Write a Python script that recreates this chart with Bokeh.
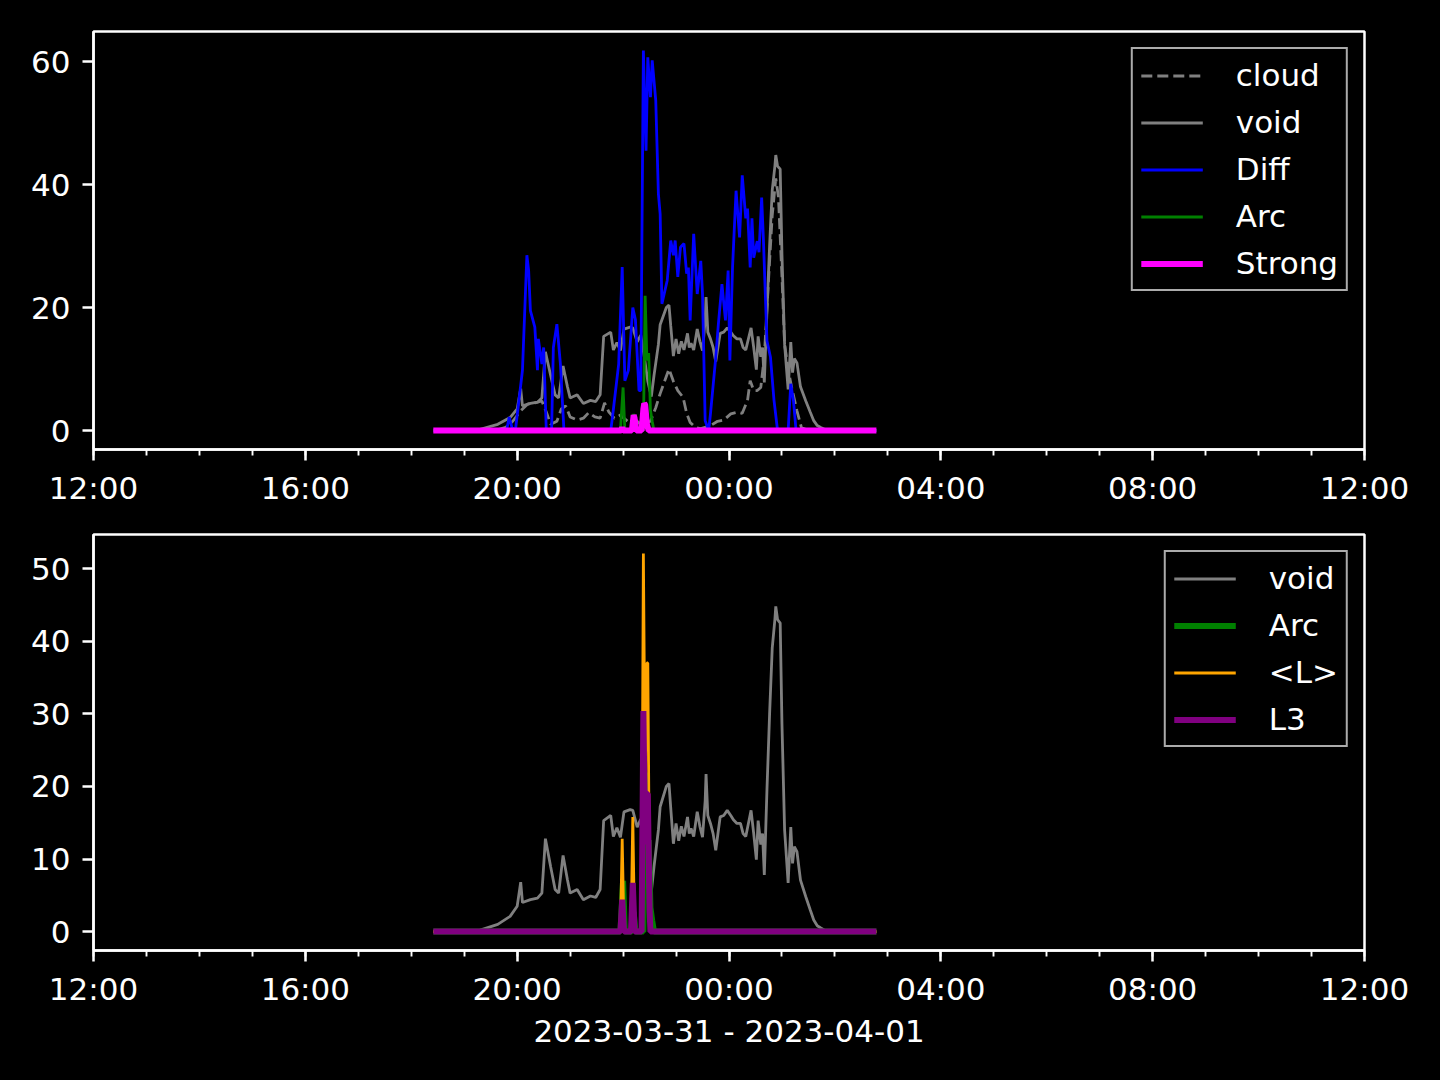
from datetime import datetime
from bokeh.plotting import figure
from bokeh.layouts import column
from bokeh.models import Range1d, FixedTicker, DatetimeTickFormatter
from bokeh.embed import file_html
from bokeh.resources import INLINE

# ---------------- data (clock time, value) ----------------
cloud = [("18:25", 0), ("19:35", 0), ("19:47", 0.5), ("19:55", 1.5), ("20:04", 3.2), ("20:12", 4.3),
         ("20:20", 4.5), ("20:28", 4.8), ("20:33", 3.0), ("20:38", 1.0), ("20:45", 1.5), ("20:50", 3.5),
         ("20:55", 4.0), ("21:00", 2.2), ("21:08", 1.7), ("21:15", 2.0), ("21:21", 2.9), ("21:28", 2.2),
         ("21:34", 2.0), ("21:39", 4.5), ("21:44", 3.0), ("21:50", 2.0), ("21:57", 2.5), ("22:05", 1.5),
         ("22:12", 2.0), ("22:20", 1.0), ("22:31", 1.5), ("22:37", 3.7), ("22:42", 6.0), ("22:47", 8.0),
         ("22:52", 10.0), ("22:57", 8.0), ("23:02", 6.5), ("23:08", 5.4), ("23:12", 2.8), ("23:16", 1.3),
         ("23:22", 0.5), ("23:28", 0.3), ("23:39", 0.8), ("23:47", 1.5), ("23:54", 1.7), ("00:02", 2.7),
         ("00:10", 3.0), ("00:15", 2.8), ("00:21", 4.9), ("00:24", 8.1), ("00:28", 6.5), ("00:32", 6.5),
         ("00:36", 7.0), ("00:40", 12.0), ("00:45", 25.0), ("00:49", 35.0), ("00:53", 41.0), ("00:56", 38.0),
         ("01:00", 25.0), ("01:03", 14.0), ("01:07", 10.0), ("01:11", 7.0), ("01:17", 3.2), ("01:22", 0.5),
         ("01:30", 0), ("02:47", 0)]

void = [("18:25", 0), ("19:10", 0), ("19:18", 0.2), ("19:38", 1.0), ("19:52", 2.1), ("20:00", 3.5),
        ("20:04", 6.8), ("20:06", 4.0), ("20:15", 4.4), ("20:23", 4.6), ("20:28", 5.3), ("20:32", 12.8),
        ("20:38", 8.9), ("20:43", 5.8), ("20:47", 5.3), ("20:52", 10.5), ("20:57", 7.1), ("21:00", 5.3),
        ("21:08", 5.8), ("21:15", 4.4), ("21:23", 4.9), ("21:29", 4.7), ("21:34", 5.8), ("21:38", 15.3),
        ("21:46", 16.0), ("21:49", 13.1), ("21:53", 14.3), ("21:57", 13.0), ("22:01", 16.5), ("22:08", 16.8),
        ("22:11", 16.7), ("22:16", 14.4), ("22:20", 15.5), ("22:24", 12.0), ("22:28", 8.0), ("22:32", 5.5),
        ("22:35", 8.9), ("22:40", 14.0), ("22:42", 17.2), ("22:49", 20.0), ("22:52", 20.4), ("22:54", 17.0),
        ("22:57", 12.1), ("23:00", 14.9), ("23:03", 12.5), ("23:06", 14.5), ("23:09", 13.1), ("23:13", 15.8),
        ("23:15", 13.5), ("23:17", 14.2), ("23:20", 13.1), ("23:24", 16.5), ("23:27", 14.5), ("23:30", 13.0),
        ("23:33", 18.0), ("23:34", 21.7), ("23:36", 16.0), ("23:39", 14.9), ("23:42", 13.5), ("23:45", 11.2),
        ("23:48", 14.0), ("23:50", 15.8), ("23:54", 16.0), ("23:58", 16.7), ("00:02", 16.0), ("00:05", 15.4),
        ("00:09", 14.9), ("00:13", 14.9), ("00:16", 13.5), ("00:19", 13.1), ("00:23", 15.5), ("00:25", 16.7),
        ("00:28", 13.5), ("00:31", 9.9), ("00:33", 15.3), ("00:36", 12.0), ("00:38", 13.5), ("00:40", 7.8),
        ("00:43", 19.5), ("00:46", 30.0), ("00:49", 39.1), ("00:52", 43.0), ("00:53", 44.8), ("00:55", 43.0),
        ("00:58", 42.5), ("01:00", 28.6), ("01:03", 14.0), ("01:07", 6.7), ("01:10", 14.4), ("01:12", 9.4),
        ("01:14", 11.7), ("01:17", 11.0), ("01:21", 7.1), ("01:27", 4.8), ("01:32", 3.0), ("01:36", 1.6),
        ("01:40", 0.8), ("01:44", 0.5), ("01:51", 0), ("02:47", 0)]

diff = [("18:25", 0), ("19:48", 0), ("19:51", 2.2), ("19:54", 0.5), ("19:58", 0), ("20:06", 9.8),
        ("20:11", 28.5), ("20:13", 26.0), ("20:15", 19.5), ("20:20", 16.8), ("20:23", 9.8), ("20:24", 14.9),
        ("20:28", 10.8), ("20:30", 13.5), ("20:33", 0), ("20:39", 0), ("20:41", 13.5), ("20:45", 17.3),
        ("20:49", 10.8), ("20:53", 0), ("21:46", 0), ("21:48", 2.2), ("21:55", 10.8), ("21:59", 26.6),
        ("22:02", 8.1), ("22:06", 9.8), ("22:11", 20.0), ("22:14", 18.0), ("22:18", 6.5), ("22:20", 6.5),
        ("22:23", 61.8), ("22:26", 45.5), ("22:28", 60.7), ("22:31", 54.2), ("22:33", 60.2), ("22:37", 53.7),
        ("22:40", 38.5), ("22:42", 35.2), ("22:44", 20.6), ("22:50", 24.4), ("22:54", 30.9), ("22:57", 28.5),
        ("22:59", 30.9), ("23:02", 25.0), ("23:05", 29.8), ("23:09", 30.4), ("23:12", 25.5), ("23:14", 26.5),
        ("23:16", 17.9), ("23:20", 32.0), ("23:24", 22.2), ("23:28", 27.6), ("23:30", 22.2), ("23:33", 1.6),
        ("23:37", 0), ("23:39", 2.7), ("23:45", 11.9), ("23:48", 17.4), ("23:52", 23.8), ("23:56", 17.9),
        ("23:59", 26.0), ("00:01", 11.4), ("00:04", 26.5), ("00:08", 39.0), ("00:12", 31.4), ("00:15", 41.5),
        ("00:19", 34.5), ("00:21", 36.1), ("00:24", 26.5), ("00:26", 34.5), ("00:28", 28.1), ("00:32", 30.8),
        ("00:34", 29.0), ("00:37", 37.9), ("00:39", 31.0), ("00:43", 14.6), ("00:47", 11.9), ("00:51", 4.9),
        ("00:55", 0), ("01:07", 0), ("01:10", 7.6), ("01:13", 4.9), ("01:16", 0), ("02:47", 0)]

arc = [("18:25", 0), ("21:57", 0), ("22:00", 7.0), ("22:02", 0), ("22:10", 0), ("22:12", 2.7),
       ("22:14", 0), ("22:23", 0), ("22:25", 21.9), ("22:27", 11.4), ("22:29", 12.6), ("22:31", 3.3),
       ("22:33", 1.5), ("22:35", 0), ("02:47", 0)]

strong = [("18:25", 0), ("21:58", 0), ("21:59", 0.5), ("22:00", 0), ("22:10", 0), ("22:12", 2.5),
          ("22:13", 2.0), ("22:15", 0), ("22:21", 0), ("22:23", 3.5), ("22:24", 4.4), ("22:25", 4.2),
          ("22:27", 1.0), ("22:29", 0), ("02:47", 0)]

mean_l = [("18:25", 0), ("21:57", 0), ("21:59", 12.8), ("22:01", 0), ("22:09", 0), ("22:11", 15.8),
          ("22:13", 0), ("22:21", 0), ("22:23", 52.1), ("22:25", 20.0), ("22:27", 37.0), ("22:28", 37.0),
          ("22:30", 5.0), ("22:31", 0), ("02:47", 0)]

l3 = [("18:25", 0), ("21:57", 0), ("21:59", 4.4), ("22:01", 0), ("22:09", 0), ("22:11", 6.7),
      ("22:13", 0), ("22:21", 0), ("22:23", 30.4), ("22:25", 12.0), ("22:27", 19.0), ("22:28", 19.0),
      ("22:30", 3.0), ("22:31", 0), ("02:47", 0)]

x_label = "2023-03-31 - 2023-04-01"
top_yticks = [0, 20, 40, 60]
bot_yticks = [0, 10, 20, 30, 40, 50]

# ---------------- helpers ----------------
EPOCH = datetime(1970, 1, 1)


def to_ms(hhmm):
    h, m = map(int, hhmm.split(":"))
    day = 31 if h >= 12 else 1
    month = 3 if h >= 12 else 4
    return (datetime(2023, month, day, h, m) - EPOCH).total_seconds() * 1000.0


def split(series):
    return [to_ms(t) for t, _ in series], [v for _, v in series]


x0 = (datetime(2023, 3, 31, 12, 0) - EPOCH).total_seconds() * 1000.0
HOUR = 3600 * 1000.0
major = [x0 + 4 * i * HOUR for i in range(7)]
minor = [x0 + i * HOUR for i in range(25)]

FONT = "DejaVu Sans"
FS = "31px"
THIN = 2.8
THICK = 6.0


def make_fig(ymin, ymax, yticks, top_border, bottom_border, frame_h):
    p = figure(frame_width=1271, frame_height=frame_h, x_axis_type="datetime",
               x_range=Range1d(x0, x0 + 24 * HOUR), y_range=Range1d(ymin, ymax),
               output_backend="svg", toolbar_location=None,
               min_border_left=93, min_border_right=68,
               min_border_top=top_border, min_border_bottom=bottom_border,
               background_fill_color="black", border_fill_color="black")
    p.xgrid.visible = False
    p.ygrid.visible = False
    p.outline_line_color = "white"
    p.outline_line_width = 2.5
    p.xaxis.ticker = FixedTicker(ticks=major, minor_ticks=minor)
    p.xaxis.formatter = DatetimeTickFormatter(
        microseconds="%H:%M", milliseconds="%H:%M", seconds="%H:%M", minsec="%H:%M",
        minutes="%H:%M", hourmin="%H:%M", hours="%H:%M", days="%H:%M",
        months="%H:%M", years="%H:%M")
    p.yaxis.ticker = FixedTicker(ticks=yticks)
    for ax in (p.xaxis[0], p.yaxis[0]):
        ax.axis_line_color = "white"
        ax.axis_line_width = 2.5
        ax.major_tick_line_color = "white"
        ax.major_tick_line_width = 2.5
        ax.major_tick_out = 11
        ax.major_tick_in = 0
        ax.minor_tick_line_color = "white"
        ax.minor_tick_line_width = 1.9
        ax.minor_tick_out = 6
        ax.minor_tick_in = 0
        ax.major_label_text_color = "white"
        ax.major_label_text_font = FONT
        ax.major_label_text_font_size = FS
    p.xaxis.major_label_standoff = 9
    p.yaxis.major_label_standoff = 12
    return p


def style_legend(p):
    lg = p.legend[0]
    lg.location = "top_right"
    lg.margin = 16
    lg.background_fill_color = "black"
    lg.background_fill_alpha = 0.8
    lg.border_line_color = "#ababab"
    lg.border_line_alpha = 1.0
    lg.border_line_width = 2.5
    lg.label_text_color = "white"
    lg.label_text_font = FONT
    lg.label_text_font_size = FS
    lg.glyph_width = 62
    lg.glyph_height = 31
    lg.label_height = 31
    lg.label_standoff = 33
    lg.spacing = 11
    lg.padding = 8


# ---------------- top panel ----------------
p1 = make_fig(-3.09, 64.89, top_yticks, 31, 65, 418)
x, y = split(cloud)
p1.line(x, y, color="gray", line_width=THIN, line_dash="11 5", legend_label="cloud")
x, y = split(void)
p1.line(x, y, color="gray", line_width=THIN, legend_label="void")
x, y = split(diff)
p1.line(x, y, color="blue", line_width=THIN, legend_label="Diff")
x, y = split(arc)
p1.line(x, y, color="green", line_width=THIN, legend_label="Arc")
x, y = split(strong)
p1.line(x, y, color="magenta", line_width=THICK, legend_label="Strong")
style_legend(p1)

# ---------------- bottom panel ----------------
p2 = make_fig(-2.605, 54.705, bot_yticks, 20, 100, 416)
x, y = split(void)
p2.line(x, y, color="gray", line_width=THIN, legend_label="void")
x, y = split(arc)
p2.line(x, y, color="green", line_width=THICK, legend_label="Arc")
x, y = split(mean_l)
p2.line(x, y, color="orange", line_width=THIN, legend_label="<L>")
x, y = split(l3)
p2.line(x, y, color="purple", line_width=THICK, legend_label="L3")
style_legend(p2)
p2.xaxis.axis_label = x_label
p2.xaxis.axis_label_text_color = "white"
p2.xaxis.axis_label_text_font = FONT
p2.xaxis.axis_label_text_font_size = FS
p2.xaxis.axis_label_text_font_style = "normal"
p2.xaxis.axis_label_standoff = 3

layout = column(p1, p2, spacing=0, styles={"background-color": "black"})

html = file_html(layout, INLINE, title="chart")
html = html.replace("</head>", "<style>html,body{background-color:#000000;}</style></head>", 1)
open("out.html", "w").write(html)
